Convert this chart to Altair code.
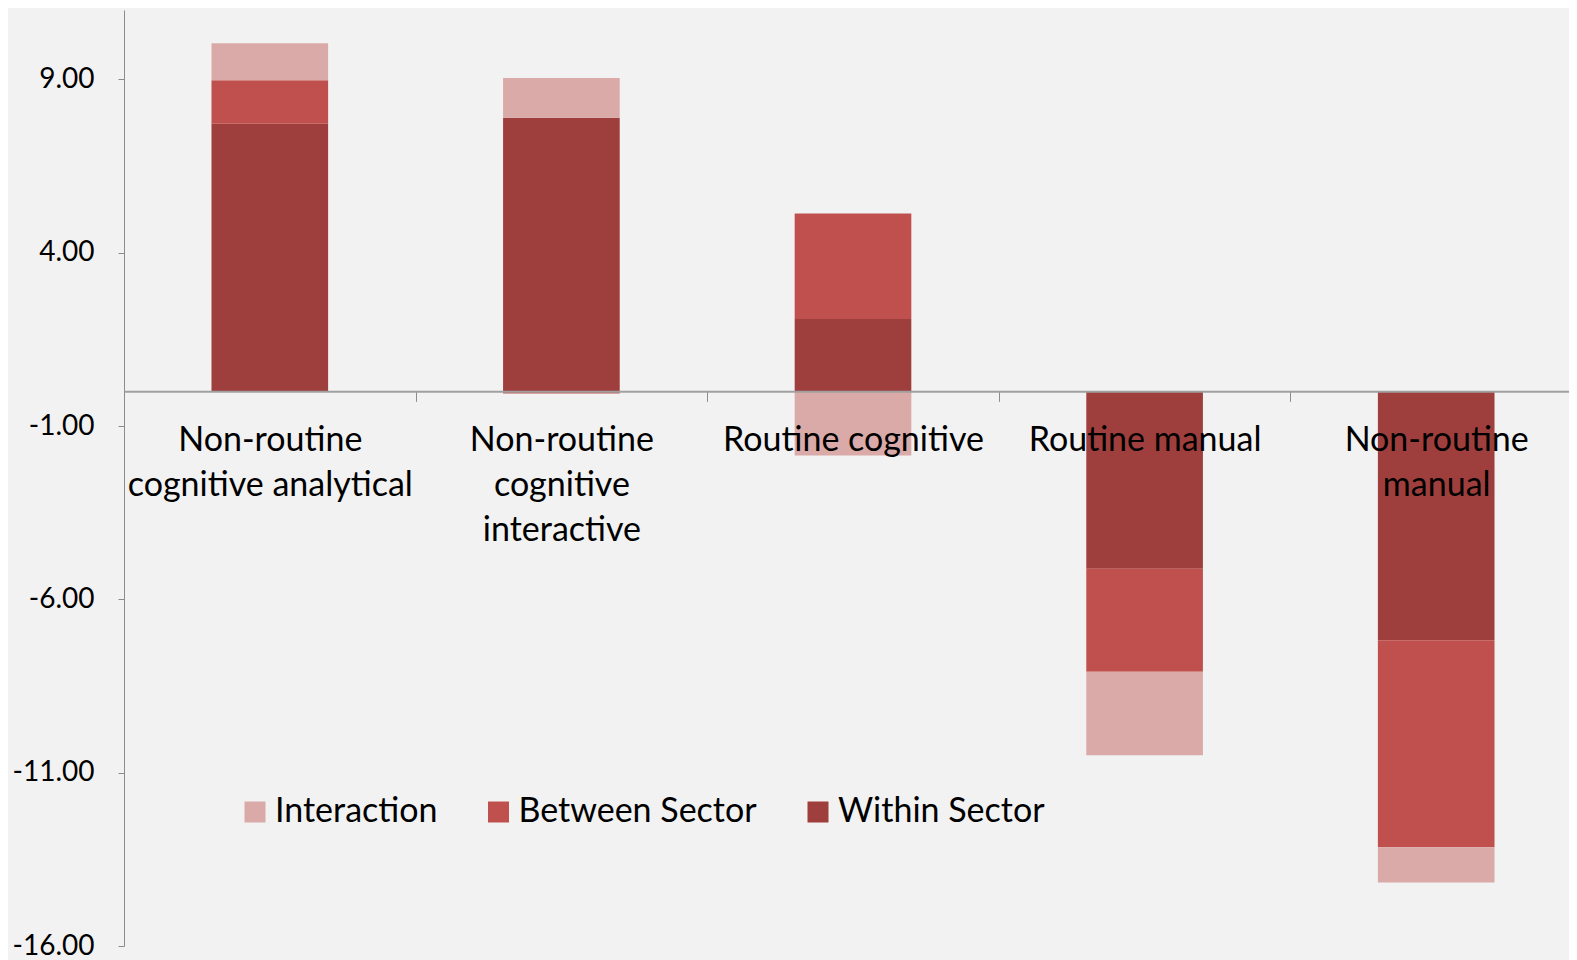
import json
import altair as alt
import pandas as pd

categories = [
    "Non-routine cognitive analytical",
    "Non-routine cognitive interactive",
    "Routine cognitive",
    "Routine manual",
    "Non-routine manual",
]
label_lines = [
    ["Non-routine", "cognitive analytical"],
    ["Non-routine", "cognitive", "interactive"],
    ["Routine cognitive"],
    ["Routine manual"],
    ["Non-routine", "manual"],
]
series = ["Interaction", "Between Sector", "Within Sector"]
stack_rank = {"Within Sector": 0, "Between Sector": 1, "Interaction": 2}
colors = ["#DAAAA9", "#C0504D", "#9F3F3D"]

within = [7.72, 7.89, 2.09, -5.12, -7.18]
between = [1.25, -0.06, 3.04, -2.97, -5.97]
interaction = [1.07, 1.15, -1.85, -2.41, -1.02]

y_ticks = [-16, -11, -6, -1, 4, 9]
y_domain = [-16, 11]

rows = []
for i, c in enumerate(categories):
    for s, vals in (("Within Sector", within), ("Between Sector", between), ("Interaction", interaction)):
        rows.append({"category": c, "series": s, "value": vals[i], "rank": stack_rank[s]})
df = pd.DataFrame(rows)

expr = "datum.label"
for c, lines in reversed(list(zip(categories, label_lines))):
    expr = f"datum.label == {json.dumps(c)} ? {json.dumps(lines)} : ({expr})"

W, H = 1445, 936
X_SPAN = 1458  # category bands run past the right edge, as in the original
x_offset = -H * (0 - y_domain[0]) / (y_domain[1] - y_domain[0])

chart = alt.Chart(df).mark_bar(width=alt.RelativeBandSize(0.4)).encode(
    x=alt.X(
        "category:N",
        sort=categories,
        scale=alt.Scale(paddingInner=0, paddingOuter=0, range=[0, X_SPAN]),
        axis=alt.Axis(
            title=None,
            offset=x_offset,
            zindex=1,
            labelExpr=expr,
            labelAngle=0,
            labelFontSize=34,
            labelLineHeight=45,
            labelColor="#000000",
            labelPadding=22.5,
            labelBaseline="top",
            labelLimit=0,
            labelOverlap=False,
            tickBand="extent",
            tickSize=10,
            tickColor="#8c8c8c",
            domainColor="#a0a0a0",
            domainWidth=2,
            grid=False,
        ),
    ),
    y=alt.Y(
        "value:Q",
        stack="zero",
        scale=alt.Scale(domain=y_domain, nice=False, zero=False),
        axis=alt.Axis(
            title=None,
            values=y_ticks,
            labelExpr="(datum.value < 0 ? '-' : '') + format(abs(datum.value), '.2f')",
            labelFontSize=28,
            labelColor="#000000",
            labelPadding=24,
            tickSize=6,
            tickColor="#8c8c8c",
            domainColor="#8c8c8c",
            grid=False,
        ),
    ),
    color=alt.Color(
        "series:N",
        scale=alt.Scale(domain=series, range=colors),
        legend=alt.Legend(
            title=None,
            orient="none",
            legendX=114,
            legendY=785,
            direction="horizontal",
            symbolType="square",
            symbolSize=441,
            symbolStrokeWidth=0,
            labelFontSize=34,
            labelColor="#000000",
            labelOffset=3,
            labelLimit=0,
            columnPadding=43.5,
        ),
    ),
    order=alt.Order("rank:Q"),
).properties(
    width=W,
    height=H,
    autosize=alt.AutoSizeParams(type="none"),
    padding={"left": 116, "top": 2, "right": 0, "bottom": 14},
    background="#f2f2f2",
).configure(font="Lato").configure_view(stroke=None)

chart.save("out.html", embed_options={"renderer": "svg", "actions": False})
